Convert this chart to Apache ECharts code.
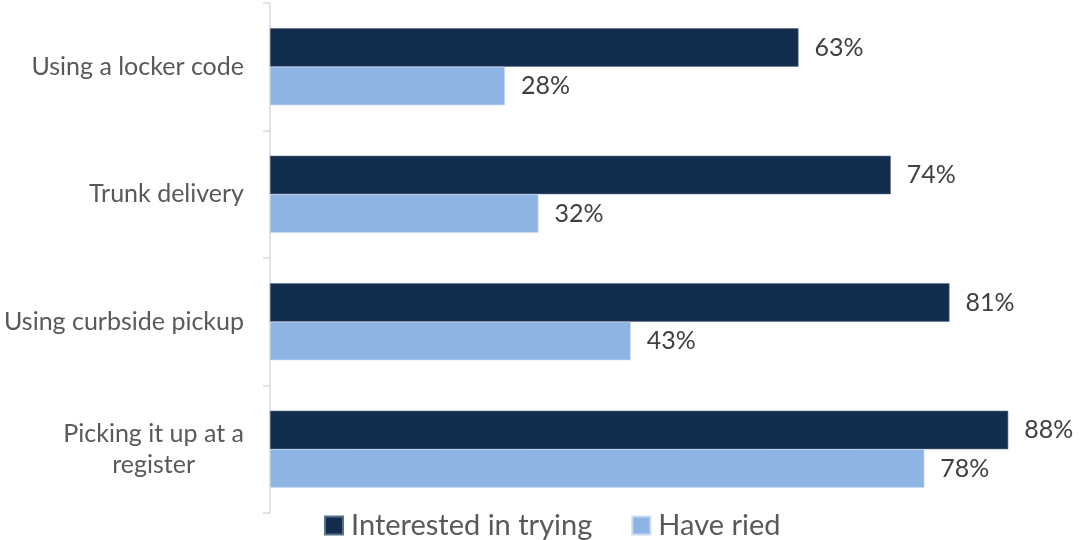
<!DOCTYPE html>
<html>
<head>
<meta charset="utf-8">
<script src="https://cdn.jsdelivr.net/npm/echarts@6/dist/echarts.min.js"></script>
<style>
  html, body { margin: 0; padding: 0; background: #ffffff; }
  #chart { width: 1082px; height: 540px; }
</style>
</head>
<body>
<div id="chart"></div>
<script>
// Delivery / pickup options, listed top to bottom
const categories = [
  'Using a locker code',
  'Trunk delivery',
  'Using curbside pickup',
  'Picking it up at a register'
];
const interestedInTrying = [63, 74, 81, 88];
const haveTried = [28, 32, 43, 78];
const seriesNames = ['Interested in trying', 'Have ried'];

const FONT = 'Lato, "Open Sans", sans-serif';

const chart = echarts.init(document.getElementById('chart'), null, { renderer: 'canvas' });

const valueLabel = {
  show: true,
  position: 'right',
  distance: 16,
  formatter: p => p.value + '%',
  color: '#404040',
  fontFamily: FONT,
  fontSize: 25
};

chart.setOption({
  animation: false,
  backgroundColor: '#ffffff',
  grid: { left: 270, right: 57, top: 3, bottom: 27, containLabel: false },
  xAxis: {
    type: 'value',
    min: 0,
    max: 90,
    show: false
  },
  yAxis: {
    type: 'category',
    data: categories,
    inverse: true,
    axisLine: { show: true, lineStyle: { color: '#D9D9D9', width: 1.5 } },
    axisTick: { show: true, length: 7, lineStyle: { color: '#D9D9D9', width: 1.5 } },
    splitLine: { show: false },
    axisLabel: {
      margin: 26,
      color: '#595959',
      fontFamily: FONT,
      fontSize: 25,
      formatter: function (v) {
        if (v === 'Picking it up at a register') {
          return '{c|Picking it up at a}\n{c|register}';
        }
        return v;
      },
      rich: {
        c: { align: 'center', color: '#595959', fontFamily: FONT, fontSize: 25, lineHeight: 31 }
      }
    }
  },
  legend: {
    left: 319,
    top: 506,
    icon: 'rect',
    itemWidth: 18,
    itemHeight: 18,
    itemGap: 39,
    textStyle: { color: '#595959', fontFamily: FONT, fontSize: 29, padding: [0, 0, 0, 3] },
    data: seriesNames
  },
  series: [
    {
      name: seriesNames[0],
      type: 'bar',
      data: interestedInTrying,
      barGap: '0%',
      barCategoryGap: '39.6%',
      itemStyle: { color: '#132D4F', borderColor: '#5B6F88', borderWidth: 0.6 },
      label: valueLabel
    },
    {
      name: seriesNames[1],
      type: 'bar',
      data: haveTried,
      barGap: '0%',
      barCategoryGap: '39.6%',
      itemStyle: { color: '#8EB4E3', borderColor: '#C9DAF0', borderWidth: 0.6 },
      label: valueLabel
    }
  ]
});
</script>
</body>
</html>
